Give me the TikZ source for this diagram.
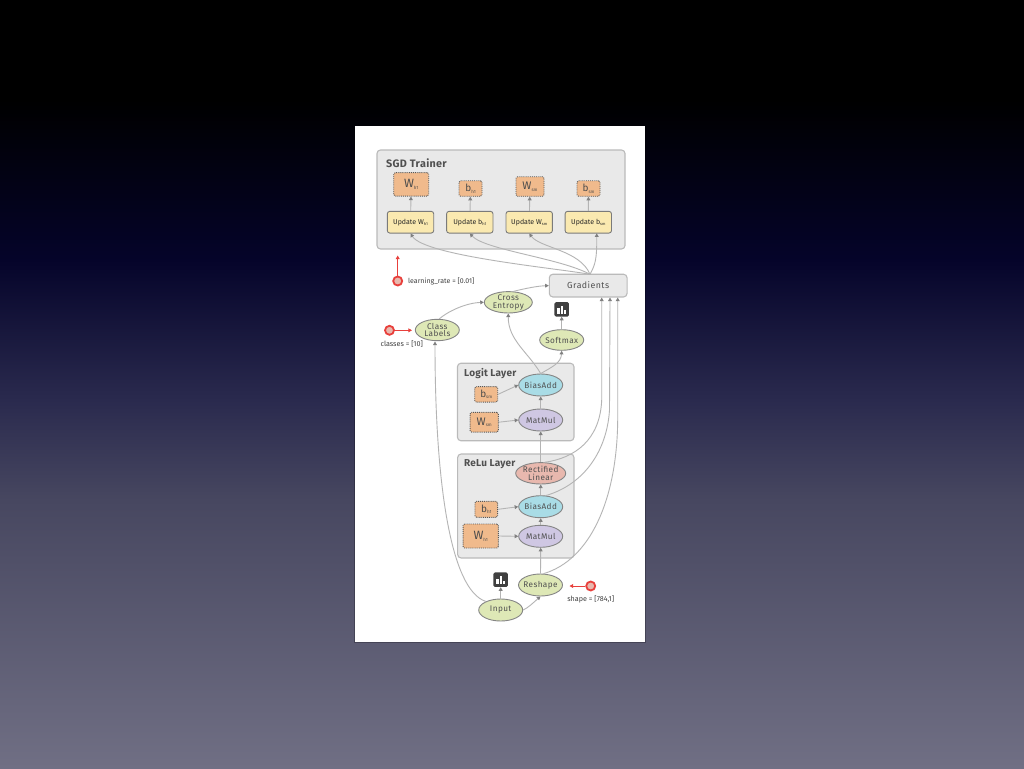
\documentclass[tikz,border=0pt]{standalone}
\usepackage{fontspec}
\setmainfont{Fira Sans}
\usetikzlibrary{arrows.meta,shapes.geometric,calc}
\definecolor{bgA}{HTML}{000000}
\definecolor{bgB}{HTML}{05042A}
\definecolor{bgC}{HTML}{2A2A4E}
\definecolor{bgD}{HTML}{474760}
\definecolor{bgE}{HTML}{706F84}
\pgfdeclareverticalshading{slidebg}{100bp}{
 color(0bp)=(bgE); color(25bp)=(bgE); color(42.45bp)=(bgD); color(48.96bp)=(bgC); color(58.07bp)=(bgB); color(68.49bp)=(bgA); color(100bp)=(bgA)}
\definecolor{linec}{HTML}{B4B4B4}
\definecolor{headc}{HTML}{808080}
\definecolor{txt}{HTML}{505050}
\definecolor{redc}{HTML}{E8403C}
\definecolor{gfill}{HTML}{DEE8B6}
\definecolor{bfill}{HTML}{A9DCE6}
\definecolor{pfill}{HTML}{CFC7E3}
\definecolor{rfill}{HTML}{E8B8AE}
\definecolor{ofill}{HTML}{F0BA8C}
\definecolor{yfill}{HTML}{FAE9B0}
\tikzset{x=1pt,y=-1pt,
 panel/.style={draw=black!27,line width=1.1pt,fill=black!8.5,rounded corners=3.5pt,inner sep=0pt},
 panellabel/.style={text=txt,font=\fontsize{10}{10}\selectfont\addfontfeature{LetterSpace=2}\bfseries,inner sep=0pt,anchor=west},
 opnode/.style={ellipse,draw=black!48,line width=0.9pt,inner sep=-6pt,text=txt,align=center,font=\fontsize{8.2}{7.9}\selectfont\addfontfeature{LetterSpace=5}},
 greenop/.style={opnode,fill=gfill},
 blueop/.style={opnode,fill=bfill},
 purpleop/.style={opnode,fill=pfill},
 pinkop/.style={opnode,fill=rfill},
 varbox/.style={draw=black!65,densely dotted,line width=0.9pt,fill=ofill,rounded corners=1.5pt,inner sep=0pt,text=black!70},
 updbox/.style={draw=black!52,line width=0.9pt,fill=yfill,rounded corners=2.5pt,inner sep=0pt,text=black!85,font=\fontsize{7}{7}\selectfont},
 conn/.style={draw=linec,line width=0.9pt,-{Triangle[length=3.6pt,width=3.8pt,color=headc]}},
 attach/.style={draw=redc,line width=1pt,-{Triangle[length=3.6pt,width=3.8pt]}},
 attachdot/.style={circle,draw=redc,line width=1.8pt,fill=rfill,minimum size=9pt,inner sep=0pt},
 attachlabel/.style={text=black!75,font=\fontsize{7.2}{7.2}\selectfont,inner sep=0pt},
 iconbox/.style={fill=black!75,rounded corners=1.5pt,minimum size=14.5pt,inner sep=0pt},
}
\newcommand{\boxat}[6]{\node[#1,minimum width=#4pt,minimum height=#5pt] (#2) at (#3) {#6};}
\newcommand{\opat}[6]{\node[#1,minimum width=#4pt,minimum height=#5pt] (#2) at (#3) {#6};}
\newcommand{\vW}[2]{\fontsize{#1}{10}\selectfont W\raisebox{-1.8pt}{\fontsize{4.5}{5}\selectfont #2}}
\newcommand{\vb}[1]{\fontsize{10}{10}\selectfont b\raisebox{-1.8pt}{\fontsize{4.5}{5}\selectfont #1}}
\newcommand{\uW}[1]{Update W\raisebox{-1.2pt}{\fontsize{4}{4}\selectfont #1}}
\newcommand{\ub}[1]{Update b\raisebox{-1.2pt}{\fontsize{4}{4}\selectfont #1}}
\newcommand{\bars}[1]{\fill[white] ($(#1)+(-4.6,4.6)$) rectangle +(2.5,-5.6);\fill[white] ($(#1)+(-1.2,4.6)$) rectangle +(2.5,-8.2);\fill[white] ($(#1)+(2.2,4.6)$) rectangle +(2.5,-3.6);}
\begin{document}
\begin{tikzpicture}
\useasboundingbox (0,0) rectangle (1024,768);
\shade[shading=slidebg] (0,0) rectangle (1024,768);
\fill[black,opacity=.25] (354,127) rectangle (646,643);
\fill[white] (355,126) rectangle (645,642);
% panels
\boxat{panel}{sgd}{501,199.5}{248}{99}{}
\boxat{panel}{logit}{515.7,402}{116.5}{77.5}{}
\boxat{panel}{relu}{515.8,506}{116.3}{104}{}
\node[panellabel,font=\fontsize{10.8}{11}\selectfont\addfontfeature{LetterSpace=3}\bfseries] (sgdl) at (386,163) {SGD Trainer};
\node[panellabel] (logitl) at (464,373.7) {Logit Layer};
\node[panellabel] (relul) at (464,464) {ReLu Layer};
% variables
\boxat{varbox}{vwh}{411.2,184.3}{35}{23.5}{\vW{12}{h1}}
\boxat{varbox}{vbh}{470.5,188.5}{23}{15.5}{\vb{h1}}
\boxat{varbox}{vws}{530,186.5}{28}{19.5}{\vW{11}{sm}}
\boxat{varbox}{vbs}{588.5,188.5}{23}{15.5}{\vb{sm}}
\boxat{varbox}{lbs}{486.2,394.3}{23}{15.5}{\vb{sm}}
\boxat{varbox}{lws}{484.2,422.2}{28.3}{19.7}{\vW{11}{sm}}
\boxat{varbox}{rbh}{486.3,509.3}{22.7}{16}{\vb{h1}}
\boxat{varbox}{rwh}{480.7,536}{35.3}{24}{\vW{12}{h1}}
% updates
\boxat{updbox}{uwh}{410.5,222.2}{46.4}{21.7}{\uW{h1}}
\boxat{updbox}{ubh}{469.8,222.2}{46.4}{21.7}{\ub{h1}}
\boxat{updbox}{uws}{529.2,222.2}{46.4}{21.7}{\uW{sm}}
\boxat{updbox}{ubs}{588.3,222.2}{46.4}{21.7}{\ub{sm}}
% gradients
\node[panel,minimum width=77.7pt,minimum height=22.7pt,text=txt,font=\fontsize{8.8}{9}\selectfont\addfontfeature{LetterSpace=5}] (grad) at (588.2,285.6) {Gradients};
% ops
\opat{greenop}{cross}{508.3,302.3}{48}{21.4}{Cross\\Entropy}
\opat{greenop}{classl}{437.3,330}{44}{21.4}{Class\\Labels}
\opat{greenop}{soft}{561.7,340}{44}{20.6}{Softmax}
\opat{blueop}{bsm}{540.7,385}{44}{22}{BiasAdd}
\opat{purpleop}{msm}{540.7,420}{44}{22}{MatMul}
\opat{pinkop}{rect}{540.7,473.3}{50}{21.4}{Rectified\\Linear}
\opat{blueop}{bh}{540.7,506.7}{44}{22}{BiasAdd}
\opat{purpleop}{mh}{540.7,536.3}{44}{22}{MatMul}
\opat{greenop}{resh}{540.5,585}{44}{22}{Reshape}
\opat{greenop}{inp}{500.7,610}{44}{22}{Input}
% icons
\node[iconbox] (ic1) at (561.7,309.3) {};
\bars{ic1}
\node[iconbox] (ic2) at (500.7,579.7) {};
\bars{ic2}
% attachments
\node[attachdot] (lrd) at (397.7,281) {};
\coordinate (lrt) at (397.7,255.5);
\draw[attach] (lrd) -- (lrt);
\node[attachlabel,anchor=west,font=\fontsize{7}{7}\selectfont] (lrl) at (408,281.5) {learning\_rate = [0.01]};
\node[attachdot] (cd) at (389.5,330.3) {};
\coordinate (ct) at (412,330.3);
\draw[attach] (cd) -- (ct);
\node[attachlabel] (cl) at (401.7,344.3) {classes = [10]};
\node[attachdot] (sd) at (590.7,586) {};
\coordinate (st) at (569.5,586);
\draw[attach] (sd) -- (st);
\node[attachlabel] (sl) at (590.7,599) {shape = [784,1]};
% connectors
\draw[conn] (uwh) -- (vwh);
\draw[conn] (ubh) -- (vbh);
\draw[conn] (uws) -- (vws);
\draw[conn] (ubs) -- (vbs);
\coordinate (gt) at (590,274.3);
\draw[conn] (gt) .. controls (555,268) and (425,256) .. (uwh.south);
\draw[conn] (gt) .. controls (560,258) and (485,250) .. (ubh.south);
\draw[conn] (gt) .. controls (580,250) and (540,248) .. (uws.south);
\coordinate (us) at (596.7,233.3);
\draw[conn] (gt) .. controls (595,265) and (597,260) .. (us);
\draw[conn] (classl.80) .. controls (447,312) and (465,303) .. (cross.west);
\draw[conn] (cross.65) .. controls (527,288) and (538,286) .. (grad.west);
\draw[conn] (bsm.north) .. controls (528,352) and (508,340) .. (cross.south);
\draw[conn] (bsm.north) .. controls (552,367) and (561,363) .. (soft.south);
\draw[conn] (soft) -- (ic1);
\draw[conn] (lbs.east) -- (bsm.west);
\draw[conn] (lws.east) -- (msm.west);
\draw[conn] (msm) -- (bsm);
\draw[conn] (rect.north) -- (msm.south);
\draw[conn] (bh) -- (rect);
\draw[conn] (mh) -- (bh);
\draw[conn] (rbh.east) -- (bh.west);
\draw[conn] (rwh.east) -- (mh.west);
\draw[conn] (resh.north) -- (mh.south);
\draw[conn] (inp) -- (ic2);
\draw[conn] (inp.east) .. controls (528,608) and (534,602) .. (resh.south);
\coordinate (cb) at (435,341.5);
\draw[conn] (inp.150) .. controls (450,590) and (435,480) .. (cb);
\coordinate (g1) at (601.7,297.5);
\coordinate (g2) at (610,297.5);
\coordinate (g3) at (617.7,297.5);
\coordinate (w1) at (601.7,400);
\coordinate (w2) at (609.5,410);
\coordinate (w3) at (617.7,420);
\draw[conn] (rect.70) .. controls (575,458) and (600,440) .. (w1) -- (g1);
\draw[conn] (bh.65) .. controls (585,484) and (607,450) .. (w2) -- (g2);
\draw[conn] (resh.75) .. controls (590,560) and (617,500) .. (w3) -- (g3);
\end{tikzpicture}
\end{document}
